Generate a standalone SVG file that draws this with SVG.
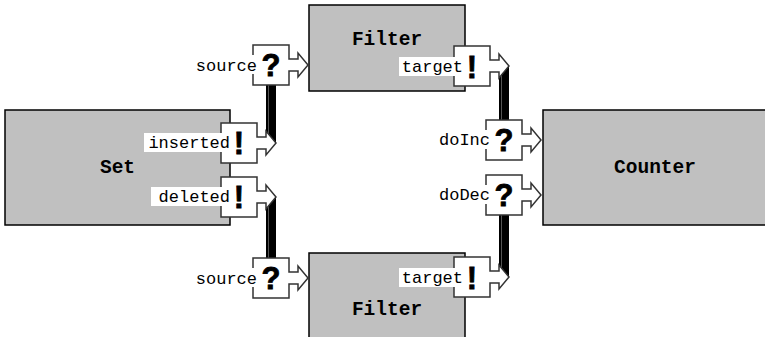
<svg xmlns="http://www.w3.org/2000/svg" width="765" height="337" viewBox="0 0 765 337">
<style>
.box{fill:#c0c0c0;stroke:#000;stroke-width:1.5}
.port{fill:#fff;stroke:#333;stroke-width:1.5;stroke-linejoin:miter}
.title{font-family:"Liberation Mono",monospace;font-weight:bold;font-size:19.5px;text-anchor:middle;fill:#000}
.lbl{font-family:"Liberation Mono",monospace;font-size:17px;text-anchor:end;fill:#000}
.bg{fill:#fff}
.sym{font-family:"Liberation Sans",Arial,sans-serif;font-weight:bold;font-size:31px;text-anchor:middle;fill:#000;stroke:#000;stroke-width:0.8}
.wire{fill:#000}
.wstripe{stroke:#555;stroke-width:1}
</style>
<defs>
<path id="portShape" class="port" d="M0,0 H36 V14 H45 V8 L55,20 L45,32 V26 H36 V40 H0 Z"/>
</defs>
<g id="connectors">
<rect class="wire" x="266" y="85" width="10" height="58"/>
<line class="wstripe" x1="268.5" y1="85" x2="268.5" y2="140"/>
<rect class="wire" x="266" y="197" width="10" height="61"/>
<line class="wstripe" x1="268.5" y1="200" x2="268.5" y2="258"/>
<rect class="wire" x="499" y="66" width="10" height="54"/>
<line class="wstripe" x1="501.5" y1="70" x2="501.5" y2="120"/>
<rect class="wire" x="499" y="215" width="10" height="62"/>
<line class="wstripe" x1="501.5" y1="215" x2="501.5" y2="274"/>
</g>
<g id="set">
<rect class="box" x="5" y="110" width="225" height="115"/>
<text class="title" x="117.5" y="173">Set</text>
<g id="set-inserted">
<use href="#portShape" x="221" y="123"/>
<rect class="bg" x="144" y="133" width="88" height="19"/>
<text class="lbl" x="230" y="148">inserted</text>
<text class="sym" x="239" y="154">!</text>
</g>
<g id="set-deleted">
<use href="#portShape" x="221" y="177"/>
<rect class="bg" x="151" y="187" width="81" height="19"/>
<text class="lbl" x="230" y="202">deleted</text>
<text class="sym" x="239" y="208">!</text>
</g>
</g>
<g id="filter-top">
<rect class="box" x="309" y="5" width="156" height="86"/>
<text class="title" x="387" y="45">Filter</text>
<g id="filter-top-source">
<use href="#portShape" x="253" y="45"/>
<rect class="bg" x="193" y="55" width="66" height="19"/>
<text class="lbl" x="257" y="71">source</text>
<text class="sym" x="271" y="76">?</text>
</g>
<g id="filter-top-target">
<use href="#portShape" x="454" y="46"/>
<rect class="bg" x="399" y="57" width="67" height="19"/>
<text class="lbl" x="463" y="72">target</text>
<text class="sym" x="472" y="78">!</text>
</g>
</g>
<g id="filter-bottom">
<rect class="box" x="309" y="253" width="156" height="90"/>
<text class="title" x="387" y="315">Filter</text>
<g id="filter-bottom-source">
<use href="#portShape" x="253" y="258"/>
<rect class="bg" x="193" y="268" width="66" height="19"/>
<text class="lbl" x="257" y="284">source</text>
<text class="sym" x="271" y="289">?</text>
</g>
<g id="filter-bottom-target">
<use href="#portShape" x="454" y="257"/>
<rect class="bg" x="399" y="268" width="67" height="19"/>
<text class="lbl" x="463" y="283">target</text>
<text class="sym" x="472" y="289">!</text>
</g>
</g>
<g id="counter">
<rect class="box" x="543" y="110" width="230" height="115"/>
<text class="title" x="655" y="173">Counter</text>
<g id="counter-doInc">
<use href="#portShape" x="486" y="120"/>
<rect class="bg" x="434" y="130" width="58" height="19"/>
<text class="lbl" x="490" y="145">doInc</text>
<text class="sym" x="504" y="151">?</text>
</g>
<g id="counter-doDec">
<use href="#portShape" x="486" y="175"/>
<rect class="bg" x="434" y="185" width="58" height="19"/>
<text class="lbl" x="490" y="200">doDec</text>
<text class="sym" x="504" y="206">?</text>
</g>
</g>
</svg>
